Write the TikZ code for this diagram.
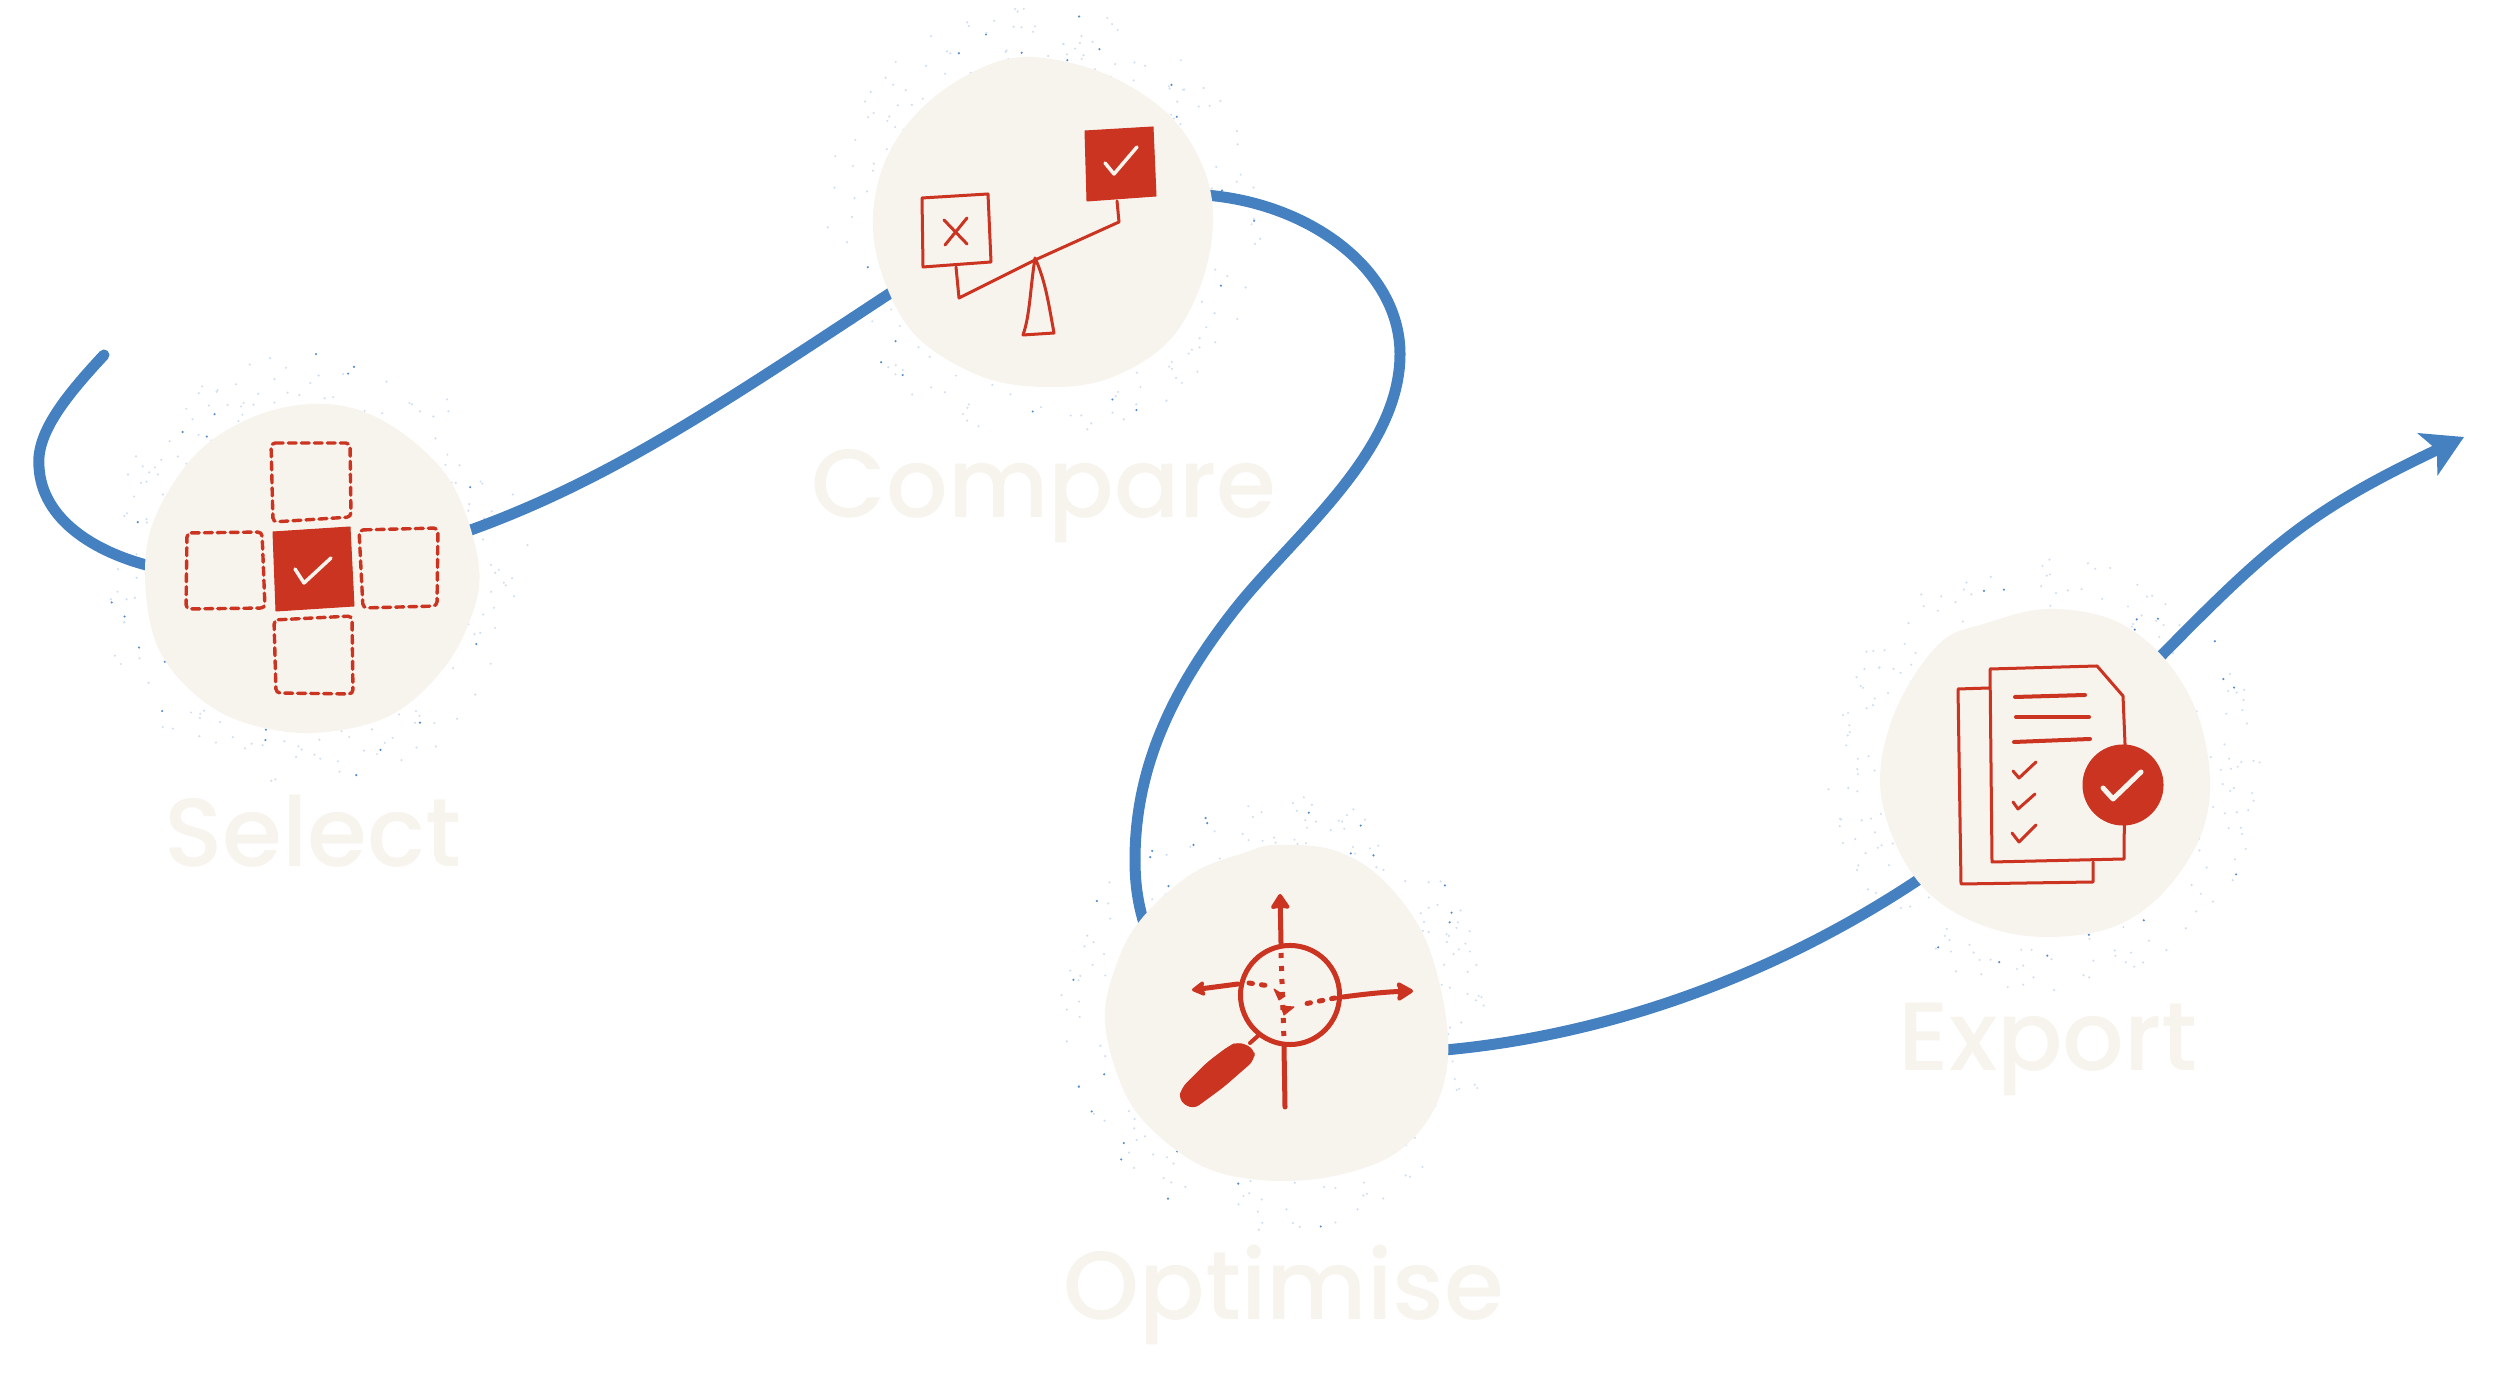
\documentclass[tikz,border=0pt]{standalone}
\usepackage{fontspec}
\newfontfamily\stepfont{Poppins Medium}
\usepackage{xcolor}
\usetikzlibrary{arrows.meta}
\definecolor{flowblue}{HTML}{4581C1}
\definecolor{inkred}{HTML}{CB3421}
\definecolor{paper}{HTML}{F7F3ED}

\begin{document}
\begin{tikzpicture}[
    x=0.01cm, y=-0.01cm,
    flow/.style={draw=flowblue, line width=0.11cm, line cap=round},
    blob/.style={fill=paper, draw=none},
    inkline/.style={draw=inkred, line width=0.03cm, line cap=round, line join=round},
    inkthick/.style={draw=inkred, line width=0.05cm, line cap=round, line join=round},
    inkfill/.style={fill=inkred, draw=inkred, line width=0.01cm, line join=round},
    dashbox/.style={draw=inkred, line width=0.034cm, line cap=round, rounded corners=1.2pt,
      dash pattern=on 0.08cm off 0.05cm},
    tickmark/.style={draw=paper, line width=0.035cm, line cap=round, line join=round},
    steplabel/.style={font=\stepfont\fontsize{27.5pt}{30pt}\selectfont, text=paper, anchor=base, inner sep=0pt},
]
\useasboundingbox (0,0) rectangle (2500,1380);

% Specks around the blobs
\pgfmathsetseed{41}
\foreach \cx/\cy in {313/570, 1043/222, 1277/1013, 2045/773} {
  \foreach \k in {1,...,190} {
    \pgfmathsetmacro{\ang}{360*rnd}
    \pgfmathsetmacro{\rad}{160+58*rnd}
    \pgfmathsetmacro{\tone}{rnd<0.12 ? 90 : 25}
    \fill[flowblue!\tone!white] ({\cx+\rad*cos(\ang)}, {\cy+\rad*sin(\ang)}) circle (0.012cm);
  }
}

% Named ends of the path
\coordinate (start) at (104,355);
\coordinate (select-in) at (150,566);
\coordinate (select-out) at (468,531);
\coordinate (compare-in) at (898,288);
\coordinate (compare-out) at (1205,195);
\coordinate (optimise-in) at (1146,930);
\coordinate (optimise-out) at (1445,1050);
\coordinate (export-in) at (1918,880);
\coordinate (export-out) at (2160,657);
\coordinate (finish) at (2464,437);

% Path
\draw[flow] (start) .. controls (62,400) and (36,435) .. (39,467)
  .. controls (42,520) and (95,552) .. (select-in);
\draw[flow] (select-out) .. controls (610,480) and (720,405) .. (compare-in);
\draw[flow] (compare-out) .. controls (1310,203) and (1400,270) .. (1400,354)
  .. controls (1400,450) and (1300,530) .. (1240,603)
  .. controls (1170,690) and (1135,770) .. (1135,860)
  .. controls (1135,885) and (1138,905) .. (optimise-in);
\draw[flow] (optimise-out) .. controls (1610,1035) and (1775,975) .. (export-in);
\draw[flow, -{Stealth[length=0.4cm, width=0.46cm, inset=0.1cm]}]
  (export-out) .. controls (2270,545) and (2310,510) .. (finish);

% Blobs
\fill[blob] plot[smooth cycle, tension=0.6] coordinates {
  (313,404) (367,413) (420,447) (457,493) (479,567) (470,620) (440,673) (387,717)
  (310,733) (237,720) (187,687) (155,640) (145,570) (157,513) (197,453) (253,417)};
\fill[blob] plot[smooth cycle, tension=0.6] coordinates {
  (1030,57) (1103,73) (1167,113) (1203,167) (1213,223) (1200,287) (1167,343) (1110,378)
  (1050,387) (983,377) (917,337) (883,277) (873,217) (887,157) (923,107) (977,70)};
\fill[blob] plot[smooth cycle, tension=0.6] coordinates {
  (1275,845) (1333,850) (1383,880) (1427,943) (1448,1037) (1437,1103) (1400,1150) (1347,1173)
  (1283,1181) (1217,1172) (1167,1143) (1127,1097) (1105,1023) (1117,963) (1143,917) (1193,873) (1247,852)};
\fill[blob] plot[smooth cycle, tension=0.6] coordinates {
  (2047,609) (2113,620) (2163,657) (2197,713) (2210,780) (2200,837) (2163,893) (2113,927)
  (2047,937) (1987,927) (1933,897) (1897,847) (1880,780) (1897,707) (1940,643) (1987,623)};

% Select icon
\draw[dashbox] (271,443) -- (350,443) -- (351,517) -- (273,522) -- cycle;
\draw[dashbox] (187,533) -- (262,532) -- (265,608) -- (186,609) -- cycle;
\draw[dashbox] (359,530) -- (438,528) -- (437,606) -- (363,608) -- cycle;
\draw[dashbox] (274,620) -- (352,616) -- (353,694) -- (276,693) -- cycle;
\fill[inkfill] (273,532) -- (350,527) -- (354,606) -- (276,611) -- cycle;
\draw[tickmark] (295,569) -- (304,583) -- (331,558);

% Compare icon
\draw[inkline] (922,198) -- (988,194) -- (991,262) -- (923,267) -- cycle;
\draw[inkline] (944,220) -- (967,244) (967,218) -- (945,245);
\fill[inkfill] (1085,131) -- (1153,127) -- (1156,196) -- (1087,201) -- cycle;
\draw[tickmark] (1105,163) -- (1114,174) -- (1137,147);
\draw[inkline] (956,267) -- (959,298) -- (1035,260) -- (1119,222) -- (1117,201);
\draw[inkline] (1035,258) .. controls (1030,290) and (1030,315) .. (1023,335) -- (1054,333)
  .. controls (1048,300) and (1045,280) .. (1035,258);

% Optimise icon
\draw[inkthick] (1290,995) circle (0.495cm);
\draw[inkthick, -{Stealth[round, length=0.17cm, width=0.22cm, inset=0.02cm]}] (1281,943) -- (1280,894);
\draw[inkthick, -{Stealth[round, length=0.15cm, width=0.17cm, inset=0.02cm]}] (1238,984) -- (1192,990);
\draw[inkthick, -{Stealth[round, length=0.19cm, width=0.22cm, inset=0.03cm]}]
  (1343,997) .. controls (1365,994) and (1385,992) .. (1413,991);
\draw[inkthick] (1284,1047) -- (1285,1107);
\draw[inkthick, dash pattern=on 0.05cm off 0.08cm, line cap=butt] (1281,953) -- (1284,1041);
\draw[inkthick, dash pattern=on 0.035cm off 0.09cm] (1249,983) -- (1270,986);
\draw[inkthick, dash pattern=on 0.035cm off 0.09cm] (1335,998) -- (1299,1005);
\fill[inkfill] (1274,989) -- (1285,996) -- (1279,1000) -- cycle;
\fill[inkfill] (1281,1006) -- (1294,1007) -- (1284,1015) -- cycle;
\draw[inkline, line width=0.04cm] (1250,1043) -- (1259,1035);
\fill[inkfill, rounded corners=2pt] (1238,1042) -- (1254,1049) -- (1254,1060) -- (1223,1087)
  -- (1193,1109) -- (1179,1100) -- (1182,1088) -- (1207,1063) -- (1228,1047) -- cycle;

% Export icon
\draw[inkline] (1989,688) -- (1958,689) -- (1961,884) -- (2093,882) -- (2093,862);
\draw[inkline] (1990,669) -- (2097,666) -- (2123,696) -- (2125,744) -- (2124,859) -- (1992,862) -- cycle;
\draw[inkline, line width=0.04cm] (2015,697) -- (2085,695);
\draw[inkline, line width=0.04cm] (2016,717) -- (2089,717);
\draw[inkline, line width=0.04cm] (2014,742) -- (2090,739);
\draw[inkline] (2013,771) -- (2019,778) -- (2036,762);
\draw[inkline] (2013,802) -- (2018,809) -- (2035,794);
\draw[inkline] (2012,833) -- (2019,842) -- (2036,825);
\fill[inkred] (2123,785) circle (0.405cm);
\draw[tickmark, line width=0.05cm] (2103,788) -- (2113,799) -- (2141,772);

% Labels
\foreach \name/\x/\y in {Select/313/867, Compare/1044/518, Optimise/1284/1319, Export/2048/1071} {
  \node[steplabel] (\name) at (\x,\y) {\name};
}
\end{tikzpicture}
\end{document}
